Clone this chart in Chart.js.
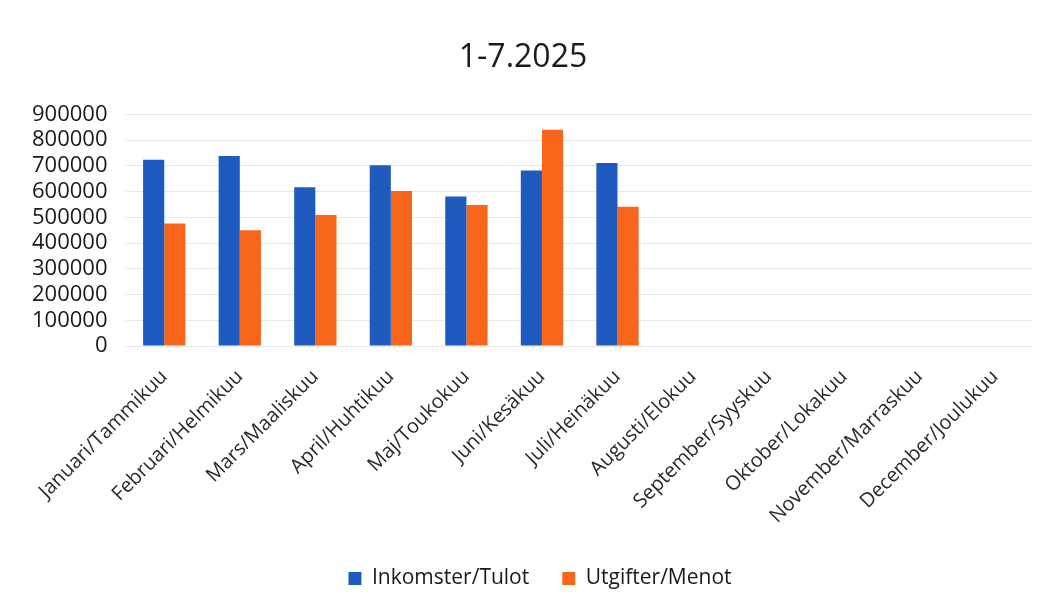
<!DOCTYPE html>
<html>
<head>
<meta charset="utf-8">
<script src="https://cdn.jsdelivr.net/npm/chart.js@4.4.1/dist/chart.umd.min.js"></script>
<style>
  html, body { margin: 0; padding: 0; background: #fff; }
  #wrap { width: 1042px; height: 609px; }
</style>
</head>
<body>
<div id="wrap"><canvas id="chart" width="1042" height="609"></canvas></div>
<script>
// Månader / kuukaudet
const months = [
    'Januari/Tammikuu', 'Februari/Helmikuu', 'Mars/Maaliskuu', 'April/Huhtikuu',
    'Maj/Toukokuu', 'Juni/Kesäkuu', 'Juli/Heinäkuu', 'Augusti/Elokuu',
    'September/Syyskuu', 'Oktober/Lokakuu', 'November/Marraskuu', 'December/Joulukuu'
];
// Inkomster/Tulot
const income = [724000, 738000, 617000, 702000, 581000, 682000, 711000, null, null, null, null, null];
// Utgifter/Menot
const expenses = [476000, 450000, 509000, 602000, 548000, 840000, 541000, null, null, null, null, null];
const yTicks = [0, 100000, 200000, 300000, 400000, 500000, 600000, 700000, 800000, 900000];

const fontFamily = "'Open Sans', 'Liberation Sans', sans-serif";

const whiteBg = {
    id: 'whiteBg',
    beforeDraw(chart) {
        const ctx = chart.ctx;
        ctx.save();
        ctx.fillStyle = '#fff';
        ctx.fillRect(0, 0, chart.width, chart.height);
        ctx.restore();
    }
};

// legenden sitter lite till höger om mitten i originalet
const legendShift = {
    id: 'legendShift',
    afterLayout(chart) {
        if (chart.legend) {
            chart.legend.left += 17;
            chart.legend.right += 17;
        }
    }
};

new Chart(document.getElementById('chart'), {
    type: 'bar',
    data: {
        labels: months,
        datasets: [{
            label: 'Inkomster/Tulot',
            data: income,
            backgroundColor: '#1f5bbf',
            borderWidth: 0
        }, {
            label: 'Utgifter/Menot',
            data: expenses,
            backgroundColor: '#f8661c',
            borderWidth: 0
        }]
    },
    options: {
        responsive: false,
        animation: false,
        layout: { padding: { left: 13, right: 9, top: 14, bottom: 10 } },
        datasets: {
            bar: { categoryPercentage: 0.56, barPercentage: 1.0 }
        },
        plugins: {
            title: {
                display: true,
                text: '1-7.2025',
                color: '#1a1a1a',
                font: { family: fontFamily, size: 32, weight: 'normal' },
                padding: { top: 25, bottom: 37 }
            },
            legend: {
                position: 'bottom',
                labels: {
                    color: '#1a1a1a',
                    font: { family: fontFamily, size: 21 },
                    boxWidth: 13,
                    boxHeight: 13,
                    padding: 33
                }
            },
            tooltip: { enabled: false }
        },
        scales: {
            x: {
                grid: { display: false },
                border: { display: false },
                ticks: {
                    color: '#2a2a2a',
                    font: { family: fontFamily, size: 20 },
                    maxRotation: 45,
                    minRotation: 45,
                    autoSkip: false,
                    padding: 11
                },
                afterFit(axis) {
                    axis.height = 189;
                    axis.paddingLeft = 0;
                    axis.paddingRight = 0;
                }
            },
            y: {
                min: 0,
                max: 900000,
                afterBuildTicks(axis) {
                    axis.ticks = yTicks.map(v => ({ value: v }));
                },
                grid: { color: '#e8e8e8', drawTicks: false },
                border: { display: false },
                ticks: {
                    color: '#1a1a1a',
                    font: { family: fontFamily, size: 22 },
                    padding: 19,
                    autoSkip: false,
                    callback: v => String(v)
                }
            }
        }
    },
    plugins: [whiteBg, legendShift]
});
</script>
</body>
</html>
